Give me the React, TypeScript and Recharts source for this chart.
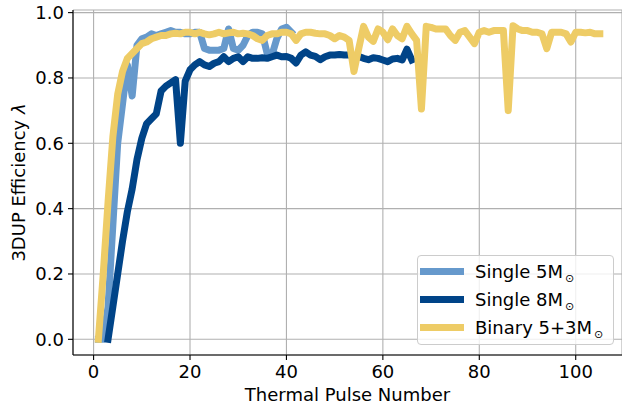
import React from "react";
import { LineChart, Line, XAxis, YAxis, CartesianGrid, Legend } from "recharts";

// pulse number where each series begins, then lambda per thermal pulse
const single5Start = 1;
const single5 = [
  0, 0, 0.1, 0.35, 0.6, 0.72, 0.84, 0.745, 0.9, 0.92,
  0.925, 0.935, 0.93, 0.935, 0.94, 0.945, 0.94, 0.94, 0.935, 0.935,
  0.94, 0.94, 0.89, 0.885, 0.885, 0.885, 0.89, 0.95, 0.89, 0.885,
  0.9, 0.93, 0.94, 0.94, 0.935, 0.875, 0.87, 0.92, 0.95, 0.955,
  0.94,
];

const single8Start = 3;
const single8 = [
  0, 0.1, 0.2, 0.3, 0.39, 0.46, 0.55, 0.615, 0.66, 0.675,
  0.69, 0.76, 0.775, 0.785, 0.795, 0.6, 0.79, 0.825, 0.84, 0.85,
  0.84, 0.835, 0.845, 0.85, 0.865, 0.85, 0.86, 0.865, 0.85, 0.865,
  0.86, 0.86, 0.862, 0.86, 0.865, 0.87, 0.865, 0.866, 0.86, 0.846,
  0.87, 0.88, 0.87, 0.866, 0.856, 0.865, 0.87, 0.87, 0.872, 0.87,
  0.87, 0.868, 0.866, 0.86, 0.856, 0.862, 0.86, 0.855, 0.85, 0.858,
  0.86, 0.855, 0.888, 0.855,
];

const binaryStart = 1;
const binary = [
  0, 0.2, 0.42, 0.62, 0.75, 0.82, 0.86, 0.875, 0.89, 0.905,
  0.91, 0.92, 0.925, 0.93, 0.93, 0.935, 0.937, 0.935, 0.94, 0.94,
  0.935, 0.94, 0.935, 0.932, 0.935, 0.94, 0.935, 0.938, 0.94, 0.935,
  0.937, 0.935, 0.93, 0.92, 0.915, 0.93, 0.935, 0.935, 0.94, 0.94,
  0.935, 0.915, 0.935, 0.94, 0.94, 0.937, 0.935, 0.935, 0.93, 0.92,
  0.93, 0.925, 0.915, 0.82, 0.89, 0.958, 0.925, 0.912, 0.95, 0.94,
  0.917, 0.95, 0.93, 0.92, 0.958, 0.935, 0.915, 0.705, 0.958, 0.955,
  0.95, 0.95, 0.95, 0.93, 0.915, 0.94, 0.945, 0.925, 0.905, 0.94,
  0.945, 0.94, 0.945, 0.945, 0.945, 0.7, 0.96, 0.95, 0.945, 0.945,
  0.94, 0.94, 0.935, 0.89, 0.94, 0.94, 0.94, 0.935, 0.91, 0.94,
  0.94, 0.938, 0.94, 0.935, 0.935,
];

const xTicks = [0, 20, 40, 60, 80, 100];
const yTicks = [0, 0.2, 0.4, 0.6, 0.8, 1.0];
const seriesNames = ["Single 5M", "Single 8M", "Binary 5+3M"];
const seriesColors = ["#6699CC", "#004488", "#EECC66"];

const lastPulse =
  Math.max(
    single5Start + single5.length,
    single8Start + single8.length,
    binaryStart + binary.length
  ) - 1;

const data: { pulse: number; s5?: number; s8?: number; bin?: number }[] = [];
for (let p = 1; p <= lastPulse; p++) {
  data.push({
    pulse: p,
    s5: single5[p - single5Start],
    s8: single8[p - single8Start],
    bin: binary[p - binaryStart],
  });
}

const FONT = "'DejaVu Sans', sans-serif";
const tickStyle = { fontFamily: FONT, fontSize: 18, fill: "#000" };

function LegendBox({ payload }: any) {
  const items = (payload || [])
    .filter((p: any) => seriesNames.includes(p.value))
    .sort(
      (a: any, b: any) =>
        seriesNames.indexOf(a.value) - seriesNames.indexOf(b.value)
    );
  return (
    <div
      style={{
        width: 195,
        height: 87,
        border: "1px solid #cccccc",
        borderRadius: 4,
        background: "rgba(255,255,255,0.8)",
        fontFamily: FONT,
        fontSize: 18,
        color: "#000",
        paddingTop: 1,
        boxSizing: "content-box",
        textAlign: "left",
      }}
    >
      {items.map((it: any) => (
        <div
          key={it.value}
          style={{ display: "flex", alignItems: "center", height: 28.3 }}
        >
          <span
            style={{
              display: "inline-block",
              width: 44,
              height: 7,
              marginLeft: 2,
              marginRight: 11,
              background: it.color,
            }}
          />
          <span style={{ whiteSpace: "nowrap" }}>
            {it.value}
            <span
              style={{
                fontSize: 11,
                position: "relative",
                top: 4,
                marginLeft: 2,
              }}
            >
              ⊙
            </span>
          </span>
        </div>
      ))}
    </div>
  );
}

export default function App() {
  return (
    <div style={{ position: "absolute", left: 0, top: 0, background: "#fff" }}>
      <LineChart
        width={622}
        height={407}
        data={data}
        margin={{ top: 10, right: 0, bottom: 0, left: 0 }}
      >
        <CartesianGrid stroke="#b0b0b0" strokeWidth={1.1} />
        <XAxis
          dataKey="pulse"
          type="number"
          domain={[-4.27, 109.6]}
          allowDataOverflow
          ticks={xTicks}
          height={52}
          tickSize={5}
          tickMargin={5}
          tick={tickStyle}
          stroke="#000"
          axisLine={{ stroke: "#000", strokeWidth: 1.1 }}
          tickLine={{ stroke: "#000", strokeWidth: 1.1 }}
          label={{
            content: (props: any) => {
              const vb = props.viewBox;
              return (
                <text
                  x={vb.x + vb.width / 2}
                  y={vb.y + 46}
                  textAnchor="middle"
                  fontFamily={FONT}
                  fontSize={18}
                  fill="#000"
                >
                  Thermal Pulse Number
                </text>
              );
            },
          }}
        />
        <XAxis
          xAxisId="top"
          orientation="top"
          dataKey="pulse"
          type="number"
          domain={[-4.27, 109.6]}
          allowDataOverflow
          height={0}
          tick={false}
          tickLine={false}
          axisLine={{ stroke: "#000", strokeWidth: 1.1 }}
        />
        <YAxis
          type="number"
          domain={[-0.048, 1.008]}
          allowDataOverflow
          ticks={yTicks}
          width={73}
          tickSize={5}
          tickMargin={4}
          tick={tickStyle}
          tickFormatter={(v: number) => v.toFixed(1)}
          axisLine={{ stroke: "#000", strokeWidth: 1.1 }}
          tickLine={{ stroke: "#000", strokeWidth: 1.1 }}
          label={{
            content: (props: any) => {
              const vb = props.viewBox;
              const cx = vb.x + 18;
              const cy = vb.y + vb.height / 2;
              return (
                <text
                  x={cx}
                  y={cy}
                  transform={`rotate(-90 ${cx} ${cy})`}
                  textAnchor="middle"
                  dominantBaseline="central"
                  fontFamily={FONT}
                  fontSize={18}
                  fill="#000"
                >
                  3DUP Efficiency <tspan fontStyle="italic">λ</tspan>
                </text>
              );
            },
          }}
        />
        <Legend
          layout="horizontal"
          verticalAlign="middle"
          align="center"
          content={<LegendBox />}
          wrapperStyle={{
            position: "absolute",
            left: 417,
            top: 255,
            width: "auto",
            height: "auto",
          }}
        />
        <Line
          dataKey="s5"
          name={seriesNames[0]}
          stroke={seriesColors[0]}
          strokeWidth={7}
          strokeLinejoin="round"
          strokeLinecap="square"
          dot={false}
          activeDot={false}
          isAnimationActive={false}
        />
        <Line
          dataKey="s8"
          name={seriesNames[1]}
          stroke={seriesColors[1]}
          strokeWidth={7}
          strokeLinejoin="round"
          strokeLinecap="square"
          dot={false}
          activeDot={false}
          isAnimationActive={false}
        />
        <Line
          dataKey="bin"
          name={seriesNames[2]}
          stroke={seriesColors[2]}
          strokeWidth={7}
          strokeLinejoin="round"
          strokeLinecap="square"
          dot={false}
          activeDot={false}
          isAnimationActive={false}
        />
      </LineChart>
    </div>
  );
}
